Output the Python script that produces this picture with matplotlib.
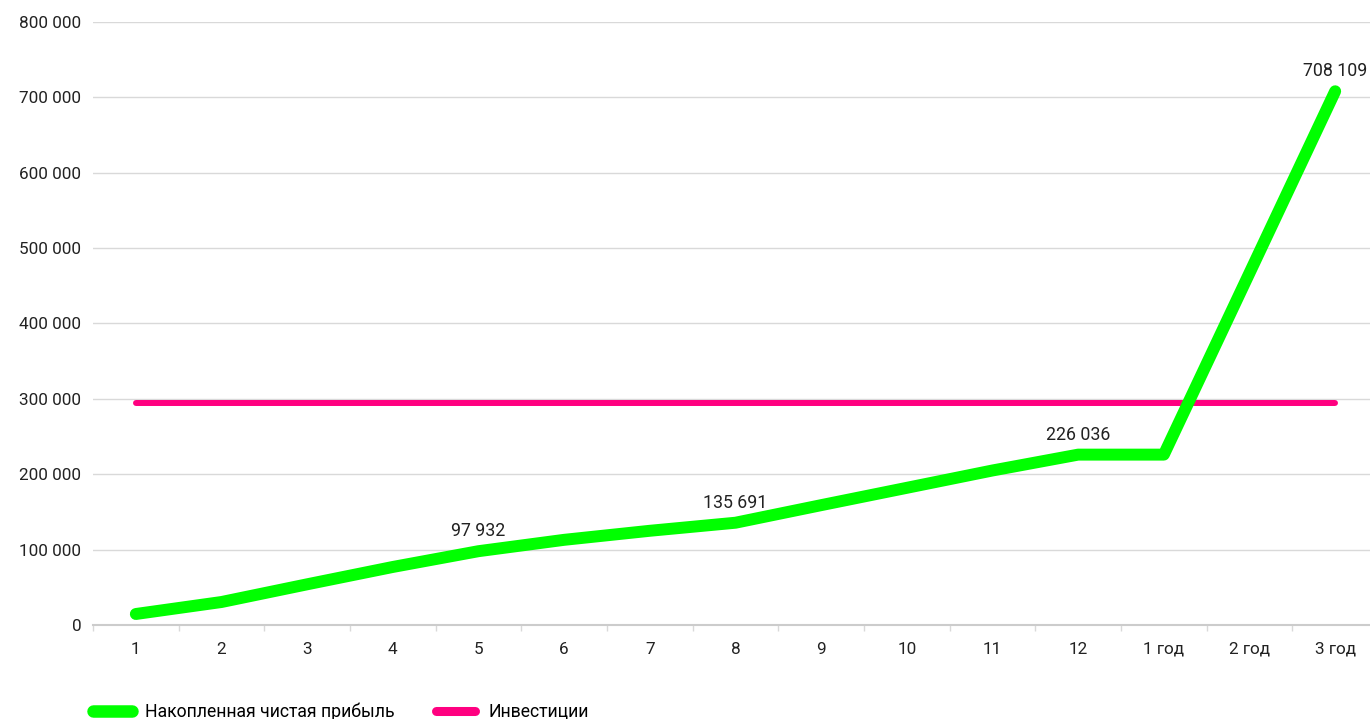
import matplotlib.pyplot as plt
from matplotlib.ticker import FuncFormatter, FixedLocator
from matplotlib.lines import Line2D
import numpy as np

plt.rcParams['font.family'] = ['Roboto', 'DejaVu Sans']

# periods: months 1..12 then years
periods = ['1', '2', '3', '4', '5', '6', '7', '8', '9', '10', '11', '12', '1 год', '2 год', '3 год']
profit = [14600, 30500, 54000, 77000, 97932, 113000, 125000, 135691, 159000, 182000, 205000, 226036, 226036, 467000, 708109]
investment = [295000] * 15
labelled = [4, 7, 11, 14]  # points that carry a value label

green = '#00ff00'
pink = '#ff0080'

def spaced(v):
    return f"{int(v):,}".replace(",", " ")

fig = plt.figure(figsize=(13.7, 7.19), dpi=100)
W, H = 1370, 719
ax = fig.add_axes([93 / W, (H - 625) / H, (1378 - 93) / W, (625 - 22) / H])

x = np.arange(len(periods))
ax.plot(x, investment, color=pink, linewidth=4.3, solid_capstyle='round', zorder=3, clip_on=False)
ax.plot(x, profit, color=green, linewidth=8.6, solid_capstyle='round', solid_joinstyle='round',
        zorder=4, clip_on=False)

for i in labelled:
    ax.annotate(spaced(profit[i]), (x[i], profit[i]), xytext=(0, 8), textcoords='offset points',
                ha='center', va='bottom', fontsize=12.8, color='#222222', zorder=5)

ax.set_xlim(-0.5, len(periods) - 0.5)
ax.set_ylim(0, 800000)
ax.set_yticks(np.arange(0, 800001, 100000))
ax.yaxis.set_major_formatter(FuncFormatter(lambda v, p: spaced(v)))
ax.set_xticks(x)
ax.set_xticklabels(periods)
ax.xaxis.set_minor_locator(FixedLocator(np.arange(-0.5, len(periods), 1.0)))

ax.grid(axis='y', color='#d9d9d9', linewidth=1)
ax.set_axisbelow(True)
for s in ['top', 'right', 'left']:
    ax.spines[s].set_visible(False)
ax.spines['bottom'].set_color('#cccccc')
ax.spines['bottom'].set_linewidth(1.5)

ax.tick_params(axis='y', length=0, pad=8.5, labelsize=12.3, labelcolor='#222222')
ax.tick_params(axis='x', which='major', length=0, pad=12, labelsize=12.3, labelcolor='#222222')
ax.tick_params(axis='x', which='minor', length=4, width=1, color='#d9d9d9')

handles = [Line2D([], [], color=green, linewidth=9, solid_capstyle='round'),
           Line2D([], [], color=pink, linewidth=6.5, solid_capstyle='round')]
labels = ['Накопленная чистая прибыль', 'Инвестиции']
fig.legend(handles, labels, loc='center left', bbox_to_anchor=(93 / W, 7 / H),
           ncol=2, frameon=False, fontsize=12.7, handlelength=2.2, columnspacing=2.35,
           handletextpad=0.75, borderaxespad=0, borderpad=0)

fig.savefig('out.png', dpi=100)
